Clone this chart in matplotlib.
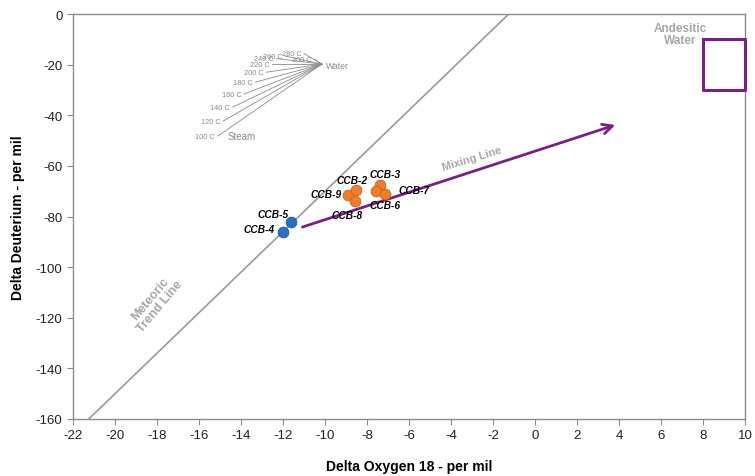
import matplotlib.pyplot as plt
import numpy as np

plt.rcParams['font.family'] = ['Liberation Sans', 'DejaVu Sans']
plt.rcParams['axes.unicode_minus'] = False

# Sample points (delta O18, delta D)
blue_names = ["CCB-4", "CCB-5"]
blue_x = [-12.0, -11.6]
blue_y = [-86.0, -82.3]

orange_names = ["CCB-9", "CCB-2", "CCB-8", "CCB-3", "CCB-6", "CCB-7"]
orange_x = [-8.9, -8.5, -8.55, -7.4, -7.55, -7.15]
orange_y = [-71.5, -69.6, -73.9, -67.6, -70.0, -71.0]

# label offsets in points (dx, dy) for each sample
blue_offsets = [(-6, 2), (-2, 6)]
orange_offsets = [(-5, 1), (-3, 7), (-6, -10), (4, 8), (6, -10), (10, 3)]

# Meteoric water line: dD = 8 * dO18 + 10
meteoric_x = [-21.25, -1.25]
meteoric_y = [8 * v + 10 for v in meteoric_x]

# Mixing line arrow
mix_start = (-11.2, -84.5)
mix_end = (3.95, -43.5)

# Andesitic water box
andesitic_x = [8, 10, 10, 8, 8]
andesitic_y = [-10, -10, -30, -30, -10]

# Steam-water separation lines (steam end at each temperature -> water)
temps = ["100 C", "120 C", "140 C", "160 C", "180 C", "200 C", "220 C", "240 C", "260 C", "280 C", "300 C"]
steam_x = [-15.1, -14.85, -14.4, -13.85, -13.3, -12.8, -12.5, -12.3, -11.9, -11.0, -10.5]
steam_y = [-48.2, -42.3, -36.8, -31.6, -26.9, -23.0, -19.8, -17.6, -16.6, -15.6, -17.8]
water_pt = (-10.15, -19.8)

fig = plt.figure(figsize=(7.55, 4.77), dpi=100)
ax = fig.add_axes([0.0967, 0.1195, 0.89, 0.849])

grey = '#8c8c8c'
label_grey = '#a6a6a6'

ax.plot(meteoric_x, meteoric_y, color='#9a9a9a', lw=1.2, zorder=2)

for tx, ty, t in zip(steam_x, steam_y, temps):
    ax.plot([tx, water_pt[0]], [ty, water_pt[1]], color='#8a8a8a', lw=0.6, zorder=2)
    ax.annotate(t, (tx, ty), xytext=(-2, 0), textcoords='offset points',
                ha='right', va='center', fontsize=5.3, color='#8a8a8a')
ax.annotate("Water", water_pt, xytext=(3, -1), textcoords='offset points',
            ha='left', va='center', fontsize=6.3, color='#8a8a8a')
ax.annotate("Steam", (steam_x[0], steam_y[0]), xytext=(7, 0), textcoords='offset points',
            ha='left', va='center', fontsize=7, color='#8a8a8a')

ax.annotate("", xy=mix_end, xytext=mix_start,
            arrowprops=dict(arrowstyle='->,head_length=0.7,head_width=0.35',
                            color='#7a1f86', lw=2), zorder=3)

ax.plot(andesitic_x, andesitic_y, color='#7a1f86', lw=2.2, zorder=3, clip_on=False)

ax.scatter(blue_x, blue_y, s=60, color='#2a6fc4', edgecolor='#1d5aa6', lw=0.6, zorder=4)
ax.scatter(orange_x, orange_y, s=60, color='#ef7d2a', edgecolor='#c8611c', lw=0.6, zorder=4)

for n, x, y, off in zip(blue_names, blue_x, blue_y, blue_offsets):
    ax.annotate(n, (x, y), xytext=off, textcoords='offset points', ha='right', va='center',
                fontsize=7.3, fontweight='bold', fontstyle='italic', color='black', zorder=5)
for n, x, y, off in zip(orange_names, orange_x, orange_y, orange_offsets):
    ha = 'right' if off[0] < 0 else 'left'
    if n in ("CCB-2", "CCB-8", "CCB-6", "CCB-3"):
        ha = 'center'
    ax.annotate(n, (x, y), xytext=off, textcoords='offset points', ha=ha, va='center',
                fontsize=7.3, fontweight='bold', fontstyle='italic', color='black', zorder=5)

ax.text(-18.1, -114, "Meteoric\nTrend Line", rotation=50, ha='center', va='center',
        fontsize=9, fontweight='bold', color=label_grey, linespacing=1.0)
ax.text(-3.0, -57.0, "Mixing Line", rotation=17, ha='center', va='center',
        fontsize=8, fontweight='bold', color=label_grey)
ax.text(6.9, -8.0, "Andesitic\nWater", ha='center', va='center',
        fontsize=8.5, fontweight='bold', color=label_grey, linespacing=1.0)

ax.set_xlim(-22, 10)
ax.set_ylim(-160, 0)
ax.set_xticks(np.arange(-22, 11, 2))
ax.set_yticks(np.arange(-160, 1, 20))
for s in ax.spines.values():
    s.set_color(grey)
    s.set_linewidth(1.0)
ax.tick_params(direction='out', length=4, color=grey, labelsize=9.5, labelcolor='#222222')
ax.set_xlabel("Delta Oxygen 18 - per mil", fontsize=10, fontweight='bold', labelpad=13)
ax.set_ylabel("Delta Deuterium - per mil", fontsize=10, fontweight='bold', labelpad=8)

fig.savefig("out.png", dpi=100)
